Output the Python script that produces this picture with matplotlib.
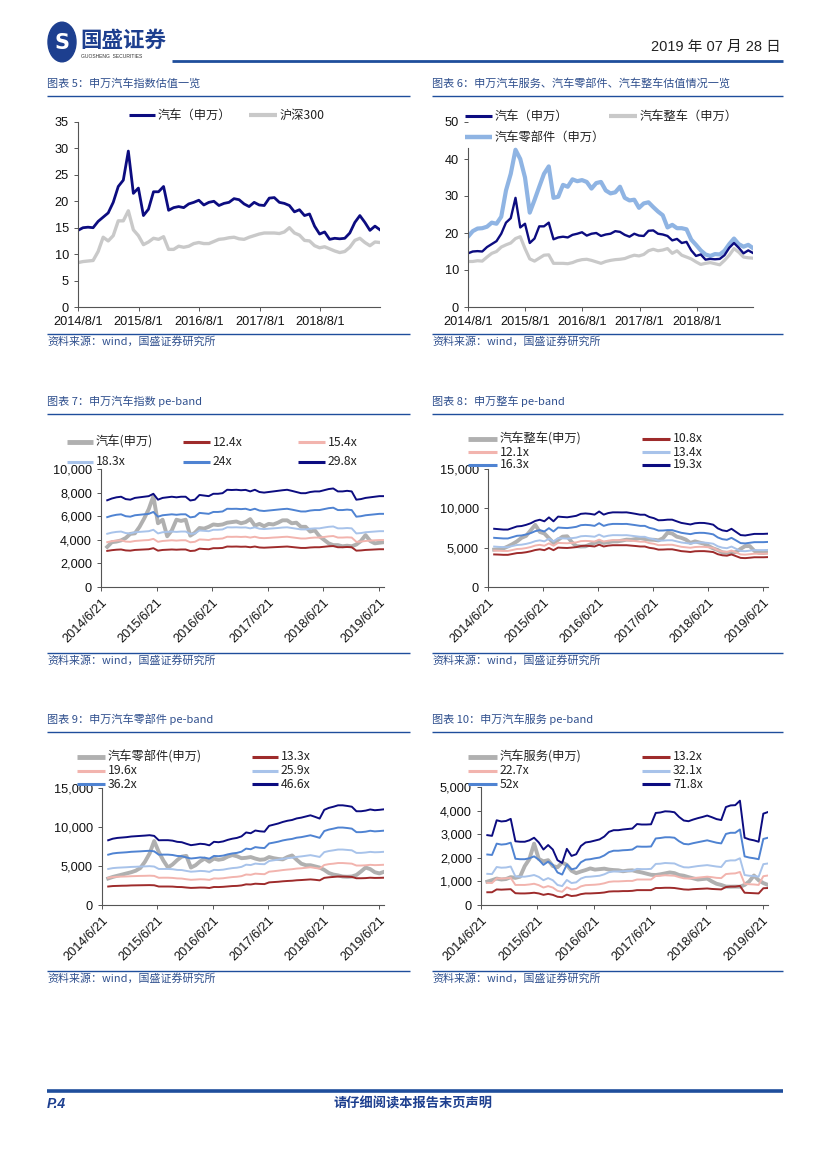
import numpy as np
import pandas as pd
import matplotlib
matplotlib.use('Agg')
import matplotlib.pyplot as plt
from matplotlib.lines import Line2D
from matplotlib.patches import Circle

W, H = 827, 1170
CJK = ['Noto Sans CJK SC', 'DejaVu Sans']
plt.rcParams['font.family'] = ['Liberation Sans', 'Noto Sans CJK SC', 'DejaVu Sans']

# ---------------- data ----------------
dates = pd.date_range('2014-08-01', '2019-07-26', periods=61)

# chart 5 / 6 : PE(TTM)
auto_pe = [14.5, 15.0, 15.1, 15.0, 16.2, 17.0, 17.8, 19.8, 22.8, 24.0,
           29.5, 21.5, 22.5, 17.3, 18.5, 21.8, 21.8, 22.8, 18.3, 18.8,
           19.0, 18.8, 19.5, 19.8, 20.2, 19.3, 19.8, 20.0, 19.2, 19.6,
           19.8, 20.5, 20.3, 19.5, 19.0, 19.8, 19.3, 19.2, 20.6, 20.7,
           19.8, 19.6, 19.2, 18.0, 18.4, 17.3, 17.6, 15.3, 13.8, 14.2,
           12.8, 13.0, 12.9, 13.0, 14.0, 16.0, 17.3, 16.0, 14.5, 15.3,
           14.6]
hs300_pe = [8.4, 8.6, 8.7, 8.8, 10.5, 13.2, 12.5, 13.5, 16.3, 16.3,
            18.2, 14.6, 13.5, 11.8, 12.3, 13.0, 12.8, 13.3, 10.9, 10.9,
            11.5, 11.3, 11.5, 12.0, 12.2, 12.0, 12.0, 12.4, 12.8, 12.9,
            13.1, 13.2, 12.9, 12.8, 13.2, 13.5, 13.8, 14.0, 14.0, 14.0,
            13.9, 14.2, 15.0, 14.0, 13.6, 12.6, 12.5, 11.6, 11.2, 11.4,
            11.0, 10.6, 10.3, 10.5, 11.3, 12.6, 13.0, 12.2, 11.6, 12.3,
            12.2]
parts_pe = [19.0, 20.5, 21.2, 21.3, 21.7, 22.8, 22.5, 24.4, 31.5, 36.0,
            42.5, 40.0, 35.0, 25.5, 28.9, 32.5, 36.0, 38.0, 29.5, 29.8,
            33.0, 32.5, 34.5, 34.0, 34.3, 33.8, 32.0, 33.5, 33.8, 31.5,
            30.7, 31.0, 32.5, 29.5, 28.8, 29.0, 26.8, 28.0, 28.3, 27.0,
            25.8, 24.8, 21.5, 22.2, 21.3, 21.3, 21.0, 18.2, 16.8, 15.3,
            14.2, 13.8, 14.3, 14.2, 15.2, 17.0, 18.5, 17.0, 16.3, 16.8,
            15.9]
vehicle_pe = [12.3, 12.3, 12.5, 12.4, 13.5, 14.5, 15.0, 16.2, 16.8, 17.3,
              18.5, 19.0, 15.8, 13.0, 12.4, 13.2, 14.0, 14.1, 11.8, 11.8,
              11.8, 11.7, 12.0, 12.5, 12.8, 12.9, 12.6, 12.2, 11.8, 12.3,
              12.6, 12.8, 12.9, 13.1, 13.6, 14.0, 13.8, 14.2, 15.2, 15.6,
              15.2, 15.4, 15.8, 14.5, 15.2, 14.0, 13.5, 13.0, 12.2, 11.5,
              11.8, 12.0, 11.7, 11.4, 12.6, 14.0, 15.8, 14.8, 13.5, 13.3,
              13.2]

# chart 7 : 汽车 pe-band
auto_idx = [3400, 3800, 3850, 3950, 4150, 4500, 4550, 5100, 5800, 6600,
            7700, 5400, 5700, 4300, 4800, 5700, 5600, 5700, 4350, 4600,
            5000, 4950, 5100, 5300, 5250, 5300, 5450, 5500, 5550, 5400,
            5500, 5750, 5200, 5350, 5150, 5350, 5300, 5450, 5650, 5650,
            5400, 5450, 5100, 5100, 4700, 4800, 4300, 4000, 3700, 3550,
            3550, 3450, 3500, 3450, 3600, 3900, 4400, 3900, 3700, 3750,
            3800]
auto_124 = [3060, 3120, 3160, 3180, 3100, 3080, 3140, 3160, 3180, 3200,
            3290, 3080, 3140, 3160, 3180, 3160, 3180, 3180, 3050, 3080,
            3250, 3220, 3200, 3290, 3290, 3310, 3430, 3420, 3430, 3410,
            3420, 3370, 3430, 3350, 3330, 3350, 3370, 3390, 3410, 3430,
            3390, 3350, 3310, 3310, 3350, 3370, 3370, 3410, 3450, 3470,
            3370, 3370, 3390, 3370, 3080, 3100, 3140, 3160, 3180, 3200,
            3200]
auto_154 = [3800, 3880, 3930, 3960, 3850, 3830, 3900, 3930, 3960, 3980,
            4080, 3830, 3900, 3930, 3960, 3930, 3960, 3960, 3790, 3830,
            4030, 4010, 3980, 4080, 4080, 4110, 4260, 4250, 4260, 4240,
            4260, 4190, 4260, 4160, 4140, 4160, 4190, 4210, 4240, 4260,
            4210, 4160, 4110, 4110, 4160, 4190, 4190, 4240, 4290, 4320,
            4190, 4190, 4210, 4190, 3830, 3850, 3900, 3930, 3960, 3980,
            3980]
auto_183 = [4510, 4610, 4670, 4700, 4570, 4540, 4640, 4670, 4700, 4730,
            4850, 4540, 4640, 4670, 4700, 4670, 4700, 4700, 4500, 4540,
            4790, 4760, 4730, 4850, 4850, 4880, 5060, 5050, 5060, 5040,
            5050, 4970, 5060, 4940, 4910, 4940, 4970, 5000, 5040, 5060,
            5000, 4940, 4880, 4880, 4940, 4970, 4970, 5040, 5100, 5130,
            4970, 4970, 5000, 4970, 4540, 4570, 4640, 4670, 4700, 4730,
            4730]
auto_24 = [5920, 6040, 6120, 6160, 6000, 5960, 6080, 6120, 6160, 6200,
           6360, 5960, 6080, 6120, 6160, 6120, 6160, 6160, 5900, 5960,
           6280, 6240, 6200, 6360, 6360, 6400, 6630, 6620, 6630, 6600,
           6630, 6520, 6630, 6480, 6440, 6480, 6520, 6560, 6600, 6630,
           6560, 6480, 6400, 6400, 6480, 6520, 6520, 6600, 6680, 6720,
           6520, 6520, 6560, 6520, 5960, 6000, 6080, 6120, 6160, 6200,
           6200]
auto_298 = [7350, 7500, 7600, 7650, 7450, 7400, 7550, 7600, 7650, 7700,
            7900, 7400, 7550, 7600, 7650, 7600, 7650, 7650, 7330, 7400,
            7800, 7750, 7700, 7900, 7900, 7950, 8240, 8220, 8240, 8200,
            8230, 8100, 8240, 8050, 8000, 8050, 8100, 8150, 8200, 8240,
            8150, 8050, 7950, 7950, 8050, 8100, 8100, 8200, 8300, 8350,
            8100, 8100, 8150, 8100, 7400, 7450, 7550, 7600, 7650, 7700,
            7700]

# chart 8 : 整车 pe-band
veh_idx = [4750, 4800, 4900, 5150, 5450, 5800, 6250, 6500, 7200, 7900,
           7000, 6800, 6200, 5600, 6000, 6400, 6450, 5700, 5200, 5150,
           5170, 5400, 5600, 5800, 5600, 5700, 5800, 5800, 5900, 6020,
           6000, 6100, 6230, 6100, 6020, 6000, 5930, 6200, 6900, 6800,
           6400, 6250, 6020, 5600, 5800, 5650, 5500, 5200, 4900, 4700,
           4400, 4350, 4320, 4450, 4850, 5200, 5200, 4600, 4350, 4320,
           4400]
veh_108 = [4140, 4120, 4090, 4090, 4200, 4310, 4340, 4420, 4540, 4700,
           4790, 4680, 4960, 4680, 5010, 4980, 4960, 5010, 5070, 5210,
           5240, 5210, 5150, 5380, 5150, 5260, 5310, 5310, 5310, 5310,
           5260, 5210, 5150, 5150, 4980, 4900, 4750, 4760, 4790, 4790,
           4680, 4560, 4510, 4450, 4540, 4560, 4560, 4510, 4440, 4170,
           4030, 3980, 4140, 3920, 3700, 3670, 3720, 3780, 3780, 3780,
           3800]
veh_121 = [4640, 4610, 4580, 4580, 4700, 4830, 4860, 4950, 5080, 5270,
           5360, 5240, 5550, 5240, 5610, 5580, 5560, 5610, 5670, 5830,
           5860, 5830, 5770, 6020, 5770, 5890, 5950, 5950, 5940, 5950,
           5890, 5830, 5760, 5760, 5580, 5490, 5320, 5330, 5370, 5370,
           5240, 5110, 5050, 4990, 5080, 5110, 5100, 5050, 4970, 4670,
           4510, 4450, 4640, 4390, 4140, 4110, 4170, 4230, 4230, 4230,
           4250]
veh_134 = [5140, 5100, 5070, 5070, 5210, 5340, 5380, 5480, 5620, 5830,
           5930, 5800, 6140, 5800, 6210, 6180, 6150, 6210, 6280, 6450,
           6490, 6450, 6390, 6660, 6390, 6520, 6590, 6590, 6580, 6590,
           6520, 6450, 6380, 6380, 6180, 6070, 5890, 5900, 5940, 5940,
           5800, 5660, 5590, 5520, 5620, 5660, 5650, 5590, 5500, 5170,
           5000, 4930, 5140, 4860, 4580, 4550, 4620, 4690, 4690, 4690,
           4710]
veh_163 = [6250, 6210, 6170, 6170, 6340, 6510, 6550, 6680, 6850, 7100,
           7230, 7060, 7480, 7060, 7560, 7520, 7490, 7560, 7650, 7860,
           7900, 7860, 7770, 8110, 7770, 7940, 8020, 8020, 8010, 8020,
           7940, 7860, 7770, 7770, 7520, 7390, 7170, 7180, 7230, 7230,
           7060, 6890, 6800, 6720, 6850, 6890, 6880, 6800, 6690, 6300,
           6080, 6000, 6250, 5920, 5580, 5540, 5620, 5700, 5700, 5700,
           5730]
veh_193 = [7400, 7350, 7300, 7300, 7500, 7700, 7750, 7900, 8100, 8400,
           8550, 8350, 8850, 8350, 8950, 8900, 8860, 8950, 9050, 9300,
           9350, 9300, 9200, 9600, 9200, 9400, 9490, 9490, 9480, 9490,
           9400, 9300, 9190, 9190, 8900, 8750, 8480, 8500, 8560, 8560,
           8350, 8150, 8050, 7950, 8100, 8150, 8140, 8050, 7920, 7450,
           7200, 7100, 7400, 7000, 6600, 6550, 6650, 6750, 6750, 6750,
           6780]

# chart 9 : 零部件 pe-band
parts_idx = [3400, 3600, 3750, 3900, 4050, 4200, 4400, 4750, 5550, 6600,
             8200, 6800, 5700, 4800, 5200, 5750, 6200, 6300, 4800, 5100,
             5600, 5950, 5550, 5950, 5800, 5900, 6200, 6400, 6250, 6000,
             6050, 6150, 5950, 5800, 5850, 6150, 6000, 5900, 5850, 6150,
             6350, 5800, 5300, 5100, 5100, 4950, 4800, 4500, 4100, 3900,
             3800, 3650, 3620, 3650, 3850, 4300, 4800, 4600, 4200, 4050,
             4250]
parts_133 = [2370, 2430, 2450, 2470, 2480, 2510, 2520, 2530, 2540, 2550,
             2530, 2370, 2370, 2370, 2360, 2310, 2300, 2240, 2190, 2210,
             2240, 2230, 2180, 2310, 2300, 2330, 2380, 2430, 2450, 2510,
             2650, 2630, 2730, 2700, 2680, 2900, 2940, 2980, 3040, 3080,
             3110, 3170, 3200, 3240, 3280, 3230, 3160, 3480, 3550, 3600,
             3650, 3650, 3630, 3600, 3430, 3430, 3450, 3500, 3470, 3480,
             3500]
parts_196 = [3490, 3580, 3620, 3640, 3660, 3690, 3710, 3730, 3740, 3760,
             3730, 3490, 3500, 3500, 3470, 3410, 3390, 3300, 3230, 3260,
             3300, 3280, 3220, 3410, 3390, 3430, 3510, 3580, 3620, 3700,
             3910, 3870, 4020, 3980, 3950, 4270, 4330, 4400, 4480, 4540,
             4590, 4670, 4710, 4770, 4840, 4750, 4660, 5130, 5240, 5300,
             5380, 5380, 5340, 5300, 5060, 5060, 5090, 5150, 5110, 5130,
             5160]
parts_259 = [4620, 4730, 4780, 4810, 4840, 4880, 4900, 4930, 4950, 4980,
             4930, 4620, 4620, 4620, 4590, 4500, 4480, 4370, 4270, 4310,
             4370, 4340, 4250, 4500, 4480, 4530, 4640, 4730, 4780, 4890,
             5170, 5120, 5310, 5250, 5230, 5640, 5730, 5810, 5920, 6010,
             6060, 6170, 6230, 6310, 6390, 6280, 6160, 6780, 6920, 7010,
             7110, 7110, 7060, 7010, 6680, 6680, 6730, 6810, 6760, 6780,
             6820]
parts_362 = [6450, 6610, 6680, 6720, 6760, 6820, 6850, 6880, 6920, 6950,
             6880, 6450, 6460, 6460, 6410, 6290, 6260, 6100, 5960, 6020,
             6100, 6060, 5940, 6290, 6260, 6330, 6490, 6610, 6680, 6840,
             7230, 7150, 7420, 7340, 7300, 7890, 8000, 8120, 8280, 8390,
             8470, 8630, 8700, 8820, 8940, 8780, 8610, 9480, 9670, 9790,
             9930, 9930, 9870, 9790, 9340, 9340, 9400, 9520, 9440, 9480,
             9530]
parts_466 = [8300, 8500, 8600, 8650, 8700, 8780, 8820, 8860, 8900, 8950,
             8860, 8300, 8310, 8310, 8250, 8100, 8050, 7850, 7670, 7750,
             7850, 7800, 7650, 8100, 8050, 8150, 8350, 8500, 8600, 8800,
             9300, 9200, 9550, 9450, 9400, 10150, 10300, 10450, 10650, 10800,
             10900, 11100, 11200, 11350, 11500, 11300, 11080, 12200, 12450, 12600,
             12780, 12780, 12700, 12600, 12020, 12020, 12100, 12250, 12150, 12200,
             12270]

# chart 10 : 服务 pe-band
serv_idx = [990, 1050, 1120, 1080, 1100, 1180, 1150, 1200, 1650, 1950,
            2600, 1950, 1850, 1900, 1650, 1600, 1800, 1700, 1450, 1350,
            1420, 1480, 1550, 1500, 1520, 1540, 1500, 1480, 1470, 1430,
            1460, 1470, 1420, 1380, 1330, 1280, 1270, 1300, 1340, 1380,
            1350, 1270, 1240, 1180, 1130, 1080, 1100, 1120, 1000, 900,
            850, 780, 775, 780, 775, 850, 1000, 1250, 1050, 930,
            850]
serv_132 = [540, 540, 660, 650, 660, 670, 500, 490, 490, 500,
            520, 490, 430, 470, 430, 350, 330, 440, 380, 400,
            460, 490, 490, 500, 510, 530, 570, 580, 580, 590,
            590, 600, 630, 630, 630, 630, 720, 720, 730, 730,
            720, 690, 660, 650, 670, 680, 690, 700, 680, 670,
            660, 760, 780, 780, 810, 520, 510, 500, 490, 710,
            720]
serv_227 = [940, 930, 1130, 1120, 1130, 1150, 850, 850, 850, 870,
            900, 840, 740, 800, 740, 600, 560, 750, 660, 680,
            790, 840, 850, 860, 880, 920, 980, 1000, 1000, 1010,
            1020, 1020, 1080, 1080, 1080, 1080, 1230, 1240, 1260, 1250,
            1240, 1180, 1130, 1120, 1140, 1160, 1180, 1200, 1180, 1150,
            1140, 1310, 1330, 1340, 1400, 900, 880, 870, 850, 1220,
            1250]
serv_321 = [1320, 1310, 1610, 1580, 1590, 1630, 1210, 1200, 1200, 1230,
            1270, 1190, 1050, 1140, 1050, 850, 800, 1060, 930, 960,
            1120, 1190, 1200, 1220, 1240, 1300, 1390, 1420, 1420, 1430,
            1440, 1450, 1530, 1520, 1520, 1530, 1740, 1750, 1780, 1770,
            1760, 1670, 1600, 1590, 1620, 1650, 1670, 1690, 1660, 1630,
            1610, 1860, 1890, 1890, 1980, 1270, 1240, 1230, 1200, 1730,
            1760]
serv_52 = [2140, 2120, 2600, 2560, 2580, 2640, 1960, 1940, 1940, 1980,
           2060, 1920, 1700, 1840, 1700, 1380, 1290, 1720, 1510, 1560,
           1810, 1920, 1940, 1980, 2010, 2100, 2240, 2300, 2300, 2320,
           2330, 2350, 2480, 2470, 2470, 2480, 2820, 2840, 2870, 2870,
           2850, 2700, 2590, 2570, 2620, 2660, 2700, 2740, 2690, 2640,
           2610, 3010, 3060, 3060, 3200, 2060, 2010, 1980, 1940, 2800,
           2850]
serv_718 = [2960, 2930, 3590, 3540, 3560, 3650, 2700, 2680, 2680, 2740,
            2850, 2650, 2350, 2540, 2350, 1900, 1780, 2380, 2080, 2150,
            2500, 2650, 2680, 2730, 2780, 2900, 3100, 3170, 3170, 3200,
            3220, 3240, 3430, 3410, 3410, 3420, 3900, 3920, 3970, 3960,
            3930, 3730, 3580, 3550, 3620, 3680, 3730, 3790, 3720, 3640,
            3600, 4150, 4220, 4230, 4420, 2850, 2780, 2740, 2680, 3870,
            3940]

tick_aug = ['2014-08-01', '2015-08-01', '2016-08-01', '2017-08-01', '2018-08-01']
label_aug = ['2014/8/1', '2015/8/1', '2016/8/1', '2017/8/1', '2018/8/1']
tick_jun = ['2014-06-21', '2015-06-21', '2016-06-21', '2017-06-21', '2018-06-21', '2019-06-21']
label_jun = ['2014/6/21', '2015/6/21', '2016/6/21', '2017/6/21', '2018/6/21', '2019/6/21']

# ---------------- colours ----------------
BLUE = '#1f4e9c'
CAP = '#30508e'
NAVY = '#0c0c80'
GRAY = '#c9c9c9'
IDX = '#b0b0b0'
LBLUE = '#8fb4e3'
band_colors = ['#9e2b2b', '#f2b4ae', '#a8c3ea', '#4f83d2', '#0c0c80']

fig = plt.figure(figsize=(W / 100, H / 100), dpi=100)


def px_ax(l, t, r, b):
    return fig.add_axes([l / W, 1 - b / H, (r - l) / W, (b - t) / H])


def txt(x, y, s, **kw):
    fig.text(x / W, 1 - y / H, s, **kw)


def hline(x1, x2, y, color=BLUE, lw=1.0):
    fig.add_artist(Line2D([x1 / W, x2 / W], [1 - y / H] * 2, color=color, lw=lw,
                          solid_capstyle='butt'))


def leg(x1, x2, y, label, color, lw):
    hline(x1, x2, y, color, lw)
    txt(x2 + 3, y, label, fontsize=8.8, va='center', family=CJK, color='#222222')


def style(ax):
    for s in ['top', 'right']:
        ax.spines[s].set_visible(False)
    for s in ['left', 'bottom']:
        ax.spines[s].set_color('#555555')
        ax.spines[s].set_linewidth(0.8)
    ax.tick_params(labelsize=9.2, length=3, width=0.7, color='#555555', labelcolor='#111111')


def caption(x, y, s, x2):
    txt(x, y, s, fontsize=8, color=CAP, va='center', family=CJK)
    hline(x, x2, y + 13, BLUE, 1.0)


def source(x, y, x2):
    hline(x, x2, y - 6, BLUE, 1.0)
    txt(x, y + 1, '资料来源：wind，国盛证券研究所', fontsize=7.9, color=CAP, va='center', family=CJK)


# ---------------- header ----------------
fig.add_artist(Circle((62 / W, 1 - 42 / H), 14 / W, transform=fig.transFigure,
                      color='#1d3f8f'))
txt(62, 43, 'S', fontsize=15, fontweight='bold', color='white', ha='center', va='center',
    family='DejaVu Sans')
txt(80, 40, '国盛证券', fontsize=15.5, fontweight='bold', color='#1d3f8f', va='center', family=CJK)
txt(81, 56, 'GUOSHENG  SECURITIES', fontsize=3.6, color='#333333', va='center')
txt(781, 47, '2019 年 07 月 28 日', fontsize=10.5, color='#222222', ha='right', va='center')
hline(172, 783, 61, BLUE, 2.0)

# ---------------- captions ----------------
caption(47, 83, '图表 5：申万汽车指数估值一览', 410)
caption(432, 83, '图表 6：申万汽车服务、汽车零部件、汽车整车估值情况一览', 783)
caption(47, 401, '图表 7：申万汽车指数 pe-band', 410)
caption(432, 401, '图表 8：申万整车 pe-band', 783)
caption(47, 719, '图表 9：申万汽车零部件 pe-band', 410)
caption(432, 719, '图表 10：申万汽车服务 pe-band', 783)

# ---------------- chart 5 ----------------
ax = px_ax(78, 122, 380, 307)
ax.plot(dates, hs300_pe, color=GRAY, lw=2.4)
ax.plot(dates, auto_pe, color=NAVY, lw=2.0)
ax.set_ylim(0, 35)
ax.set_yticks(range(0, 36, 5))
ax.set_xlim(dates[0], dates[-1])
ax.set_xticks(pd.to_datetime(tick_aug))
ax.set_xticklabels(label_aug)
style(ax)
leg(129, 155, 115, '汽车（申万）', NAVY, 2.2)
leg(249, 277, 115, '沪深300', GRAY, 3.0)
source(47, 340, 410)

# ---------------- chart 6 ----------------
ax = px_ax(468, 122, 753, 307)
ax.plot(dates, parts_pe, color=LBLUE, lw=3.0)
ax.plot(dates, vehicle_pe, color=GRAY, lw=2.3)
ax.plot(dates, auto_pe, color=NAVY, lw=1.7)
ax.set_ylim(0, 50)
ax.set_yticks(range(0, 51, 10))
ax.set_xlim(dates[0], dates[-1])
ax.set_xticks(pd.to_datetime(tick_aug))
ax.set_xticklabels(label_aug)
style(ax)
ax.spines['left'].set_bounds(0, 43)
leg(465, 492, 116, '汽车（申万）', NAVY, 2.2)
leg(609, 637, 116, '汽车整车（申万）', GRAY, 3.0)
leg(465, 492, 137, '汽车零部件（申万）', LBLUE, 3.2)
source(432, 340, 783)


# ---------------- pe-band charts ----------------
def band_chart(box, idx, bands, ymax, ystep):
    ax = px_ax(*box)
    ax.plot(dates, idx, color=IDX, lw=2.8)
    for vals, c in zip(bands, band_colors):
        ax.plot(dates, vals, color=c, lw=1.4)
    ax.set_ylim(0, ymax)
    ax.set_yticks(np.arange(0, ymax + 1, ystep))
    ax.set_yticklabels(['{:,}'.format(int(v)) for v in np.arange(0, ymax + 1, ystep)])
    ax.set_xlim(pd.Timestamp('2014-06-21'), dates[-1])
    ax.set_xticks(pd.to_datetime(tick_jun))
    ax.set_xticklabels(label_jun, rotation=45, ha='right', rotation_mode='anchor')
    style(ax)
    ax.tick_params(axis='x', pad=4)
    return ax


band_chart((101, 469, 384, 587), auto_idx,
           [auto_124, auto_154, auto_183, auto_24, auto_298], 10000, 2000)
leg(67, 93, 442, '汽车(申万)', IDX, 3.5)
leg(183, 210, 442, '12.4x', band_colors[0], 2.2)
leg(298, 325, 442, '15.4x', band_colors[1], 2.2)
leg(67, 93, 462, '18.3x', band_colors[2], 2.2)
leg(183, 210, 462, '24x', band_colors[3], 2.2)
leg(298, 325, 462, '29.8x', band_colors[4], 2.2)
source(47, 659, 410)

band_chart((488, 469, 768, 587), veh_idx,
           [veh_108, veh_121, veh_134, veh_163, veh_193], 15000, 5000)
leg(468, 497, 439, '汽车整车(申万)', IDX, 3.5)
leg(642, 670, 439, '10.8x', band_colors[0], 2.2)
leg(468, 497, 452, '12.1x', band_colors[1], 2.2)
leg(642, 670, 452, '13.4x', band_colors[2], 2.2)
leg(468, 497, 465, '16.3x', band_colors[3], 2.2)
leg(642, 670, 465, '19.3x', band_colors[4], 2.2)
source(432, 659, 783)

band_chart((102, 788, 384, 905), parts_idx,
           [parts_133, parts_196, parts_259, parts_362, parts_466], 15000, 5000)
leg(77, 105, 757, '汽车零部件(申万)', IDX, 3.5)
leg(252, 278, 757, '13.3x', band_colors[0], 2.2)
leg(77, 105, 771, '19.6x', band_colors[1], 2.2)
leg(252, 278, 771, '25.9x', band_colors[2], 2.2)
leg(77, 105, 784, '36.2x', band_colors[3], 2.2)
leg(252, 278, 784, '46.6x', band_colors[4], 2.2)
source(47, 977, 410)

band_chart((481, 787, 768, 905), serv_idx,
           [serv_132, serv_227, serv_321, serv_52, serv_718], 5000, 1000)
leg(468, 497, 757, '汽车服务(申万)', IDX, 3.5)
leg(642, 670, 757, '13.2x', band_colors[0], 2.2)
leg(468, 497, 771, '22.7x', band_colors[1], 2.2)
leg(642, 670, 771, '32.1x', band_colors[2], 2.2)
leg(468, 497, 784, '52x', band_colors[3], 2.2)
leg(642, 670, 784, '71.8x', band_colors[4], 2.2)
source(432, 977, 783)

# ---------------- footer ----------------
hline(47, 783, 1091, BLUE, 2.6)
txt(47, 1104, 'P.4', fontsize=10, fontweight='bold', style='italic', color='#1d3f8f', va='center')
txt(413, 1104, '请仔细阅读本报告末页声明', fontsize=9.5, fontweight='bold', color='#1d3f8f',
    ha='center', va='center', family=CJK)

fig.savefig('out.png', dpi=100)
